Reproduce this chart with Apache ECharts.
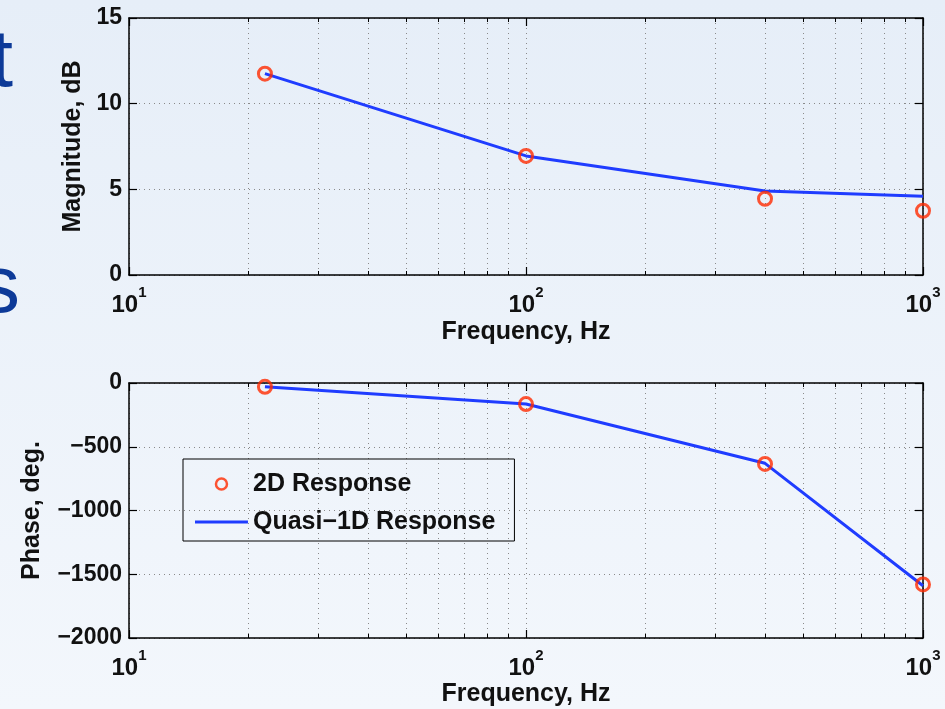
<!DOCTYPE html>
<html>
<head>
<meta charset="utf-8">
<script src="https://cdn.jsdelivr.net/npm/echarts@6/dist/echarts.min.js"></script>
<style>
html,body{margin:0;padding:0;}
#c{width:945px;height:709px;}
</style>
</head>
<body>
<div id="c"></div>
<script>
// ---- data ----
var freqs = [22, 100, 400, 1000];
var mag2D = [11.75, 6.95, 4.45, 3.75];
var magQ1D = [11.75, 6.95, 4.9, 4.6];
var phase2D = [-30, -165, -635, -1580];
var phaseQ1D = [-30, -165, -630, -1590];
var xTickExponents = [1, 2, 3];
var magTicks = [0, 5, 10, 15];
var phaseTicks = [-2000, -1500, -1000, -500, 0];

var FONT = "'Liberation Sans', Arial, Helvetica, sans-serif";
var LINE_COLOR = '#1f3cff';
var MARK_COLOR = '#ff2a00';

function pairs(xs, ys) { return xs.map(function (x, i) { return [x, ys[i]]; }); }

var chart = echarts.init(document.getElementById('c'));

var gridLine = { show: true, lineStyle: { color: '#8a8a8a', width: 1, type: [1, 4] } };
var axisLine = { show: true, onZero: false, lineStyle: { color: '#000', width: 1.5 } };

function xAxisMain(gi) {
  return {
    type: 'log', logBase: 10, gridIndex: gi, min: 10, max: 1000, position: 'bottom',
    name: 'Frequency, Hz', nameLocation: 'middle', nameGap: gi === 0 ? 45 : 44,
    nameTextStyle: { fontFamily: FONT, fontWeight: 'bold', fontSize: 25, color: '#111' },
    axisLine: axisLine,
    axisTick: { show: true, inside: true, length: 8, lineStyle: { color: '#000', width: 1.2 } },
    minorTick: { show: true, splitNumber: 9, length: 4, lineStyle: { color: '#000', width: 1 } },
    splitLine: gridLine,
    minorSplitLine: gridLine,
    axisLabel: {
      margin: 10,
      formatter: function (v) {
        var e = Math.round(Math.log(v) / Math.LN10);
        return xTickExponents.indexOf(e) >= 0 ? '{b|10}{s|' + e + '}' : '';
      },
      rich: {
        b: { fontFamily: FONT, fontWeight: 'bold', fontSize: 24, color: '#111', lineHeight: 32, verticalAlign: 'bottom' },
        s: { fontFamily: FONT, fontWeight: 'bold', fontSize: 15, color: '#111', lineHeight: 32, verticalAlign: 'top' }
      }
    }
  };
}
function xAxisTop(gi) {
  return {
    type: 'log', logBase: 10, gridIndex: gi, min: 10, max: 1000, position: 'top',
    axisLine: axisLine,
    axisTick: { show: true, inside: true, length: 8, lineStyle: { color: '#000', width: 1.2 } },
    minorTick: { show: true, splitNumber: 9, length: 4, lineStyle: { color: '#000', width: 1 } },
    splitLine: { show: false }, minorSplitLine: { show: false },
    axisLabel: { show: false }
  };
}
function yAxisMain(gi, ticks, name, gap) {
  return {
    type: 'value', gridIndex: gi, min: ticks[0], max: ticks[ticks.length - 1],
    interval: ticks[1] - ticks[0], position: 'left',
    name: name, nameLocation: 'middle', nameRotate: 90, nameGap: gap,
    nameTextStyle: { fontFamily: FONT, fontWeight: 'bold', fontSize: 25, color: '#111' },
    axisLine: axisLine,
    axisTick: { show: true, inside: true, length: 8, lineStyle: { color: '#000', width: 1.2 } },
    splitLine: gridLine,
    axisLabel: {
      margin: 7, fontFamily: FONT, fontWeight: 'bold', fontSize: 23, color: '#111',
      formatter: function (v) { return String(v).replace('-', '\u2212'); }
    }
  };
}
function yAxisRight(gi, ticks) {
  return {
    type: 'value', gridIndex: gi, min: ticks[0], max: ticks[ticks.length - 1],
    interval: ticks[1] - ticks[0], position: 'right',
    axisLine: axisLine,
    axisTick: { show: true, inside: true, length: 8, lineStyle: { color: '#000', width: 1.2 } },
    splitLine: { show: false }, axisLabel: { show: false }
  };
}

var option = {
  animation: false,
  backgroundColor: {
    type: 'linear', x: 0, y: 0, x2: 0, y2: 1,
    colorStops: [{ offset: 0, color: '#e6eef8' }, { offset: 1, color: '#f3f7fc' }]
  },
  graphic: [
    { type: 'text', x: 13, y: 22, style: { text: 't', fill: '#0d3a98', font: '82px ' + FONT, textAlign: 'right', textVerticalAlign: 'top' } },
    { type: 'text', x: 20, y: 248, style: { text: 's', fill: '#0d3a98', font: '82px ' + FONT, textAlign: 'right', textVerticalAlign: 'top' } }
  ],
  grid: [
    { left: 129, right: 22, top: 18, height: 257 },
    { left: 129, right: 22, top: 383, height: 255 }
  ],
  xAxis: [xAxisMain(0), xAxisMain(1), xAxisTop(0), xAxisTop(1)],
  yAxis: [
    yAxisMain(0, magTicks, 'Magnitude, dB', 43),
    yAxisMain(1, phaseTicks, 'Phase, deg.', 84),
    yAxisRight(0, magTicks),
    yAxisRight(1, phaseTicks)
  ],
  legend: {
    left: 183, top: 459, orient: 'vertical',
    padding: [11, 19, 5, 12], itemGap: 10,
    itemWidth: 53, itemHeight: 11,
    borderColor: '#000', borderWidth: 1, backgroundColor: 'transparent',
    textStyle: { fontFamily: FONT, fontWeight: 'bold', fontSize: 25, color: '#111', lineHeight: 28 },
    formatter: function (name) { return name.replace('-', '\u2212'); },
    data: [
      { name: '2D Response', icon: 'circle', itemStyle: { color: 'rgba(0,0,0,0)', borderColor: MARK_COLOR, borderWidth: 2.5 } },
      { name: 'Quasi-1D Response', icon: 'path://M0,0 L0,0.01 M0,4 L53,4 L53,7 L0,7 Z M53,11 L53,11.01',
        itemStyle: { color: LINE_COLOR, borderWidth: 0 } }
    ]
  },
  series: [
    { name: 'Quasi-1D Response', type: 'line', xAxisIndex: 0, yAxisIndex: 0, data: pairs(freqs, magQ1D),
      showSymbol: false, symbol: 'none', lineStyle: { color: LINE_COLOR, width: 3 }, itemStyle: { color: LINE_COLOR }, z: 3 },
    { name: '2D Response', type: 'scatter', xAxisIndex: 0, yAxisIndex: 0, data: pairs(freqs, mag2D),
      symbol: 'circle', symbolSize: 13, itemStyle: { color: 'rgba(0,0,0,0)', borderColor: MARK_COLOR, borderWidth: 3 }, z: 4 },
    { name: 'Quasi-1D Response', type: 'line', xAxisIndex: 1, yAxisIndex: 1, data: pairs(freqs, phaseQ1D),
      showSymbol: false, symbol: 'none', lineStyle: { color: LINE_COLOR, width: 3 }, itemStyle: { color: LINE_COLOR }, z: 3 },
    { name: '2D Response', type: 'scatter', xAxisIndex: 1, yAxisIndex: 1, data: pairs(freqs, phase2D),
      symbol: 'circle', symbolSize: 13, itemStyle: { color: 'rgba(0,0,0,0)', borderColor: MARK_COLOR, borderWidth: 3 }, z: 4 }
  ]
};
chart.setOption(option);
</script>
</body>
</html>
